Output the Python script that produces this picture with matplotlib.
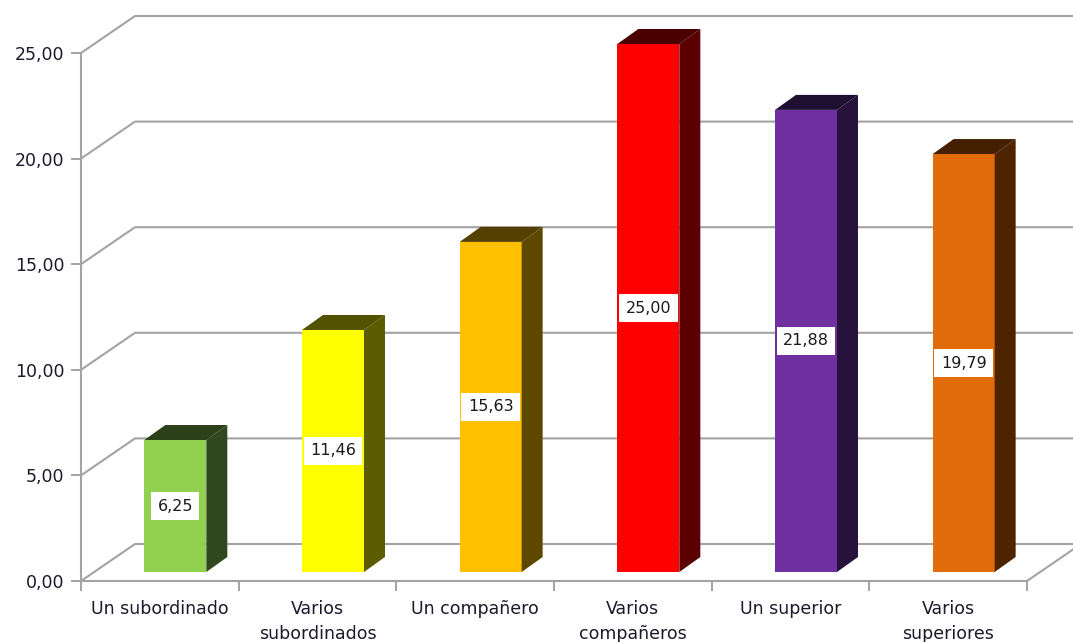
import matplotlib
matplotlib.use("Agg")
import matplotlib.pyplot as plt
from matplotlib.patches import Polygon

categories = ["Un subordinado", "Varios\nsubordinados", "Un compañero",
              "Varios\ncompañeros", "Un superior", "Varios\nsuperiores"]
values = [6.25, 11.46, 15.63, 25.00, 21.88, 19.79]
value_labels = ["6,25", "11,46", "15,63", "25,00", "21,88", "19,79"]
yticks = [0, 5, 10, 15, 20, 25]
ytick_labels = ["0,00", "5,00", "10,00", "15,00", "20,00", "25,00"]
front_colors = ["#92d050", "#ffff00", "#ffc000", "#ff0000", "#7030a0", "#e36c0a"]
side_colors = ["#31471d", "#5b5b00", "#5e4800", "#5a0000", "#26123a", "#4e2400"]
top_colors = ["#2c4019", "#525200", "#544000", "#4a0000", "#1f0f30", "#452000"]

W, H = 1073, 642
fig = plt.figure(figsize=(W / 100, H / 100), dpi=100)
# front plane of the 3D box in pixel terms
x0, x1 = 81, 1027
y0, y1 = 581, 53
ax = fig.add_axes([x0 / W, (H - y0) / H, (x1 - x0) / W, (y0 - y1) / H])
n = len(categories)
ax.set_xlim(0, n)
ax.set_ylim(0, 25)

pxu = (x1 - x0) / n          # pixels per category unit
pyu = (y0 - y1) / 25.0       # pixels per value unit
DX, DY = 54 / pxu, 37 / pyu  # depth of the box
grid_c = "#a3a3a3"

# gridlines on side and back wall
for t in yticks:
    ax.plot([0, DX, n + DX], [t, t + DY, t + DY], color=grid_c, lw=1.5,
            clip_on=False, zorder=1, solid_capstyle="butt")
ax.plot([n, n + DX], [0, DY], color=grid_c, lw=1.5, clip_on=False, zorder=1)

# bars
f0 = 0.243
bw = 62 / pxu
bdx, bdy = 21 / pxu, 15 / pyu
for i, v in enumerate(values):
    cx = i + 0.5 + f0 * DX + 0.015
    b = f0 * DY
    xl, xr = cx - bw / 2, cx + bw / 2
    ax.bar(cx, v, width=bw, bottom=b, color=front_colors[i], zorder=3,
           linewidth=0, clip_on=False)
    side = Polygon([(xr, b), (xr + bdx, b + bdy), (xr + bdx, b + bdy + v), (xr, b + v)],
                   closed=True, facecolor=side_colors[i], edgecolor="none",
                   zorder=3, clip_on=False)
    top = Polygon([(xl, b + v), (xr, b + v), (xr + bdx, b + v + bdy), (xl + bdx, b + v + bdy)],
                  closed=True, facecolor=top_colors[i], edgecolor="none",
                  zorder=3, clip_on=False)
    ax.add_patch(side)
    ax.add_patch(top)
    ax.text(cx, b + v / 2, value_labels[i], ha="center", va="center",
            fontsize=11.5, color="#1a1a1a", zorder=5, family="DejaVu Sans",
            bbox=dict(boxstyle="square,pad=0.4", facecolor="white", edgecolor="none"))

# axes styling
for s in ["top", "right"]:
    ax.spines[s].set_visible(False)
for s in ["left", "bottom"]:
    ax.spines[s].set_color(grid_c)
    ax.spines[s].set_linewidth(1.5)
ax.patch.set_visible(False)
ax.set_yticks(yticks)
ax.set_yticklabels(ytick_labels)
ax.set_xticks(range(n + 1))
ax.set_xticklabels([])
ax.set_xticks([i + 0.5 for i in range(n)], minor=True)
ax.set_xticklabels(categories, minor=True)
ax.tick_params(axis="y", direction="out", length=7, color=grid_c, width=1.4,
               labelsize=12.5, labelcolor="#1a1a2a", pad=5)
ax.tick_params(axis="x", which="major", direction="out", length=7, color=grid_c, width=1.4)
ax.tick_params(axis="x", which="minor", length=0, labelsize=12.5, labelcolor="#1a1a2a", pad=14)
for lab in ax.get_xticklabels(minor=True):
    lab.set_linespacing(1.45)

fig.savefig("out.png", dpi=100, facecolor="white")
